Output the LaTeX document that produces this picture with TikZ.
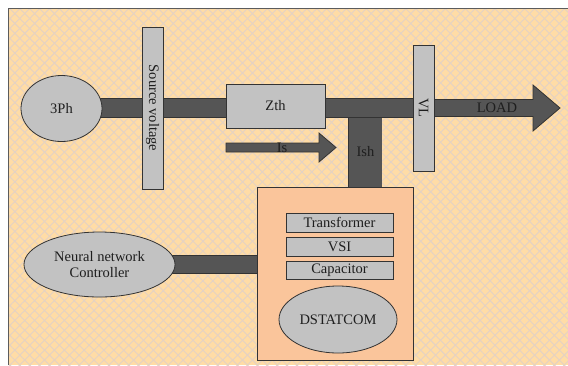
\documentclass[tikz,border=0pt]{standalone}
\usepackage{fontspec}
\setmainfont{Liberation Serif}
\usetikzlibrary{patterns.meta,calc,shapes.geometric}
\pgfdeclarelayer{bg}
\pgfsetlayers{bg,main}
\definecolor{bgfill}{HTML}{FFDCA6}
\definecolor{hatch}{HTML}{E4D2C4}
\definecolor{peach}{HTML}{FAC59B}
\definecolor{lgray}{HTML}{C2C2C2}
\definecolor{dgray}{HTML}{555555}
\definecolor{edge}{HTML}{333333}
\definecolor{ink}{HTML}{1E1E1E}
\tikzset{
  every node/.style={font=\rmfamily\fontsize{14.5}{15.5}\selectfont, text=ink},
  gbox/.style={draw=edge, fill=lgray, line width=0.8pt, inner sep=0pt},
  ellip/.style={ellipse, draw=edge, fill=lgray, line width=0.8pt, inner sep=0pt},
  dbox/.style={draw=edge, fill=peach, line width=0.8pt, inner sep=0pt},
  bus/.style={draw=edge, line width=0.8pt, double=dgray, double distance=#1},
  bus/.default=17.5pt,
  arrowshape/.style={draw=edge, fill=dgray, line width=0.8pt, line join=miter},
}
\begin{document}
\begin{tikzpicture}[x=1pt,y=-1pt]
\useasboundingbox (0,0) rectangle (568,365);
% background
\begin{pgfonlayer}{bg}
\fill[bgfill] (8,8) rectangle (568,365);
\fill[pattern={Lines[angle=45,distance=7pt,line width=0.9pt]}, pattern color=hatch] (8,8) rectangle (568,365);
\fill[pattern={Lines[angle=-45,distance=7pt,line width=0.9pt]}, pattern color=hatch] (8,8) rectangle (568,365);
\draw[edge!80, line width=0.9pt] (568,8) -- (8,8) -- (8,365);
\end{pgfonlayer}

% nodes
\node[ellip, minimum width=81pt, minimum height=66pt] (ph) at (61.5,108.5) {3Ph};
\node[gbox, rotate=-90, minimum width=162pt, minimum height=21pt] (sv) at (152.5,108) {Source voltage};
\node[gbox, minimum width=99pt, minimum height=44pt] (zth) at (275.5,106) {Zth};
\node[gbox, rotate=-90, minimum width=126pt, minimum height=21pt] (vl) at (423.5,108) {VL};
\node[dbox, minimum width=156pt, minimum height=173pt] (dst) at (335,273.5) {};
\node[gbox, minimum width=107pt, minimum height=19pt] (tr) at (339.5,222.5) {Transformer};
\node[gbox, minimum width=107pt, minimum height=19pt] (vsi) at (339.5,246.5) {VSI};
\node[gbox, minimum width=107pt, minimum height=18pt] (cap) at (339.5,270) {Capacitor};
\node[ellip, minimum width=118pt, minimum height=67pt] (ds) at (338,319.5) {DSTATCOM};
\node[ellip, minimum width=151pt, minimum height=65pt, align=center] (nn) at (99.5,264.5) {Neural network\\Controller};

\coordinate (ishtop) at (365,108);
\coordinate (istail) at (226,147.5);
\coordinate (istip) at (336,147.5);
\coordinate (loadtip) at (560,108);

% connectors
\begin{pgfonlayer}{bg}
\draw[bus=33pt] (ishtop) -- (ishtop |- dst.north);
\draw[bus] (vl.center -| ph.center) -- (vl.center -| zth.center);
\draw[bus] (vl.center -| zth.center) -- (vl.center);
\draw[bus] (nn.center) -- (nn.center -| dst.center);
\draw[arrowshape] ($(vl.center)+(0,-8.5)$) -- ($(loadtip)+(-27,-8.5)$) -- ($(loadtip)+(-27,-23)$)
  -- (loadtip) -- ($(loadtip)+(-27,23)$) -- ($(loadtip)+(-27,8.5)$) -- ($(vl.center)+(0,8.5)$) -- cycle;
\draw[arrowshape] ($(istail)+(0,-4.5)$) -- ($(istip)+(-17,-4.5)$) -- ($(istip)+(-17,-14.5)$)
  -- (istip) -- ($(istip)+(-17,14.5)$) -- ($(istip)+(-17,4.5)$) -- ($(istail)+(0,4.5)$) -- cycle;
\end{pgfonlayer}

% labels on connectors
\node at (497,107.5) {LOAD};
\node at (282,147.5) {Is};
\node at (365.5,152) {Ish};
\end{tikzpicture}
\end{document}
